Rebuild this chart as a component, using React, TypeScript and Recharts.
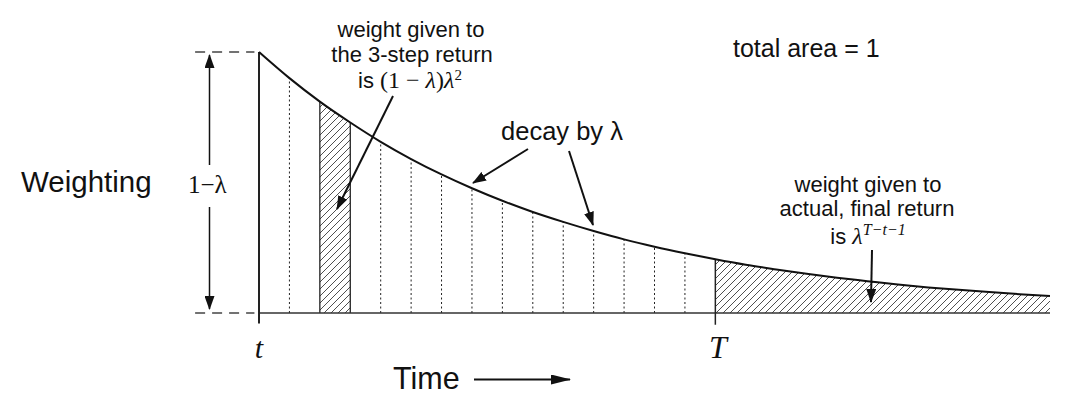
import { ComposedChart, Line, Area, XAxis, YAxis, ReferenceLine } from 'recharts'

// time steps after t (T is step 15), and the weight at each step (1 = 1-λ at t)
const steps = [0, 1, 2, 3, 4, 5, 6, 7, 8, 9, 10, 11, 12, 13, 14, 15, 16, 17, 18, 19, 20, 21, 22, 23, 24, 25, 26]
const weights = [
  1.0, 0.9, 0.81, 0.73, 0.656, 0.59, 0.531, 0.478, 0.43, 0.387, 0.349, 0.314, 0.282, 0.254,
  0.229, 0.206, 0.185, 0.167, 0.15, 0.135, 0.122, 0.109, 0.098, 0.089, 0.08, 0.072, 0.065,
]
const threeStep = [2, 3]
const finalStep = 15
const dottedSteps = [1, 4, 5, 6, 7, 8, 9, 10, 11, 12, 13, 14]
const levelGuides = [0, 1]

const data = steps.map((k, i) => ({
  k,
  w: weights[i],
  hatchA: threeStep.includes(k) ? weights[i] : null,
  hatchB: k >= finalStep ? weights[i] : null,
}))

const W = 1087
const H = 416
const sans = '"Liberation Sans", Arial, Helvetica, sans-serif'
const serif = '"Liberation Serif", "Times New Roman", serif'
const ink = '#111'

function Annotations() {
  return (
    <svg width={W} height={H} style={{ position: 'absolute', left: 0, top: 0, pointerEvents: 'none' }}>
      <defs>
        <marker id="head" viewBox="0 0 14 10" refX="13" refY="5" markerWidth="14" markerHeight="10" markerUnits="userSpaceOnUse" orient="auto">
          <path d="M0,0 L14,5 L0,10 z" fill={ink} />
        </marker>
        <marker id="headBig" viewBox="0 0 20 10" refX="19" refY="5" markerWidth="20" markerHeight="10" markerUnits="userSpaceOnUse" orient="auto">
          <path d="M0,0 L20,5 L0,10 z" fill={ink} />
        </marker>
      </defs>

      {/* 1-λ double arrow */}
      <line x1={209.5} y1={165} x2={209.5} y2={55} stroke={ink} strokeWidth={1.5} markerEnd="url(#head)" />
      <line x1={209.5} y1={207} x2={209.5} y2={309} stroke={ink} strokeWidth={1.5} markerEnd="url(#head)" />
      <text x={188} y={193} fontFamily={serif} fontSize={25} fill={ink}>1−λ</text>

      <text x={21} y={192} fontFamily={sans} fontSize={29.5} fill={ink}>Weighting</text>

      {/* 3-step return note */}
      <g fontFamily={sans} fontSize={22} fill={ink} textAnchor="middle">
        <text x={411} y={37}>weight given to</text>
        <text x={412} y={62}>the 3-step return</text>
        <text x={410} y={88}>
          is <tspan fontFamily={serif} fontSize={24}>(1 − </tspan>
          <tspan fontFamily={serif} fontSize={24} fontStyle="italic">λ</tspan>
          <tspan fontFamily={serif} fontSize={24}>)</tspan>
          <tspan fontFamily={serif} fontSize={24} fontStyle="italic">λ</tspan>
          <tspan fontFamily={serif} fontSize={15} dy={-8}>2</tspan>
        </text>
      </g>
      <line x1={393} y1={96} x2={337} y2={209} stroke={ink} strokeWidth={2} markerEnd="url(#head)" />

      <text x={733} y={57} fontFamily={sans} fontSize={25} fill={ink}>total area = 1</text>

      {/* decay note */}
      <text x={562} y={140} fontFamily={sans} fontSize={25.5} fill={ink} textAnchor="middle">decay by λ</text>
      <line x1={528} y1={149} x2={473} y2={183} stroke={ink} strokeWidth={2} markerEnd="url(#head)" />
      <line x1={569} y1={151} x2={593} y2={225} stroke={ink} strokeWidth={2} markerEnd="url(#head)" />

      {/* final return note */}
      <g fontFamily={sans} fontSize={22} fill={ink} textAnchor="middle">
        <text x={868} y={192}>weight given to</text>
        <text x={867} y={216}>actual, final return</text>
        <text x={868} y={244}>
          is <tspan fontFamily={serif} fontSize={24} fontStyle="italic">λ</tspan>
          <tspan fontFamily={serif} fontStyle="italic" fontSize={16} dy={-9}>T−t−1</tspan>
        </text>
      </g>
      <line x1={872} y1={250} x2={871} y2={302} stroke={ink} strokeWidth={2} markerEnd="url(#head)" />

      {/* axis labels */}
      <text x={259} y={358} fontFamily={serif} fontStyle="italic" fontSize={30} fill={ink} textAnchor="middle">t</text>
      <text x={718} y={358} fontFamily={serif} fontStyle="italic" fontSize={32} fill={ink} textAnchor="middle">T</text>
      <text x={393} y={389} fontFamily={sans} fontSize={30.5} fill={ink}>Time</text>
      <line x1={474} y1={379.5} x2={570} y2={379.5} stroke={ink} strokeWidth={2} markerEnd="url(#headBig)" />
    </svg>
  )
}

export default function App() {
  return (
    <div style={{ position: 'absolute', left: 0, top: 0, width: W, height: H, background: '#fff' }}>
      <ComposedChart width={W} height={H} data={data} margin={{ top: 52, right: 37, left: 259, bottom: 103 }}>
        <defs>
          <pattern id="hatch" patternUnits="userSpaceOnUse" width={7} height={7}>
            <path d="M0,7 L7,0 M-1,1 L1,-1 M6,8 L8,6" stroke="#222" strokeWidth={0.8} />
          </pattern>
        </defs>
        <XAxis type="number" dataKey="k" domain={[0, 26]} hide />
        <YAxis type="number" domain={[0, 1]} hide />

        <Area type="monotone" dataKey="hatchA" fill="url(#hatch)" fillOpacity={1} stroke="none" isAnimationActive={false} />
        <Area type="monotone" dataKey="hatchB" fill="url(#hatch)" fillOpacity={1} stroke="none" isAnimationActive={false} />

        {levelGuides.map((v) => (
          <ReferenceLine
            key={'g' + v}
            segment={[{ x: -2.1, y: v }, { x: -0.15, y: v }]}
            stroke="#444"
            strokeWidth={1.3}
            strokeDasharray="10 7"
            ifOverflow="visible"
          />
        ))}

        {dottedSteps.map((k) => (
          <ReferenceLine
            key={'d' + k}
            segment={[{ x: k, y: 0 }, { x: k, y: weights[k] }]}
            stroke="#222"
            strokeWidth={1}
            strokeDasharray="2 2.5"
            ifOverflow="visible"
          />
        ))}
        {threeStep.map((k) => (
          <ReferenceLine
            key={'s' + k}
            segment={[{ x: k, y: 0 }, { x: k, y: weights[k] }]}
            stroke="#222"
            strokeWidth={1.3}
            ifOverflow="visible"
          />
        ))}

        <ReferenceLine segment={[{ x: 0, y: 0 }, { x: 26, y: 0 }]} stroke="#333" strokeWidth={1.5} ifOverflow="visible" />
        <ReferenceLine segment={[{ x: 0, y: -0.04 }, { x: 0, y: 1 }]} stroke="#222" strokeWidth={2} ifOverflow="visible" />
        <ReferenceLine
          segment={[{ x: finalStep, y: -0.045 }, { x: finalStep, y: weights[finalStep] }]}
          stroke="#222"
          strokeWidth={1.5}
          ifOverflow="visible"
        />

        <Line type="monotone" dataKey="w" stroke={ink} strokeWidth={2} dot={false} isAnimationActive={false} />
      </ComposedChart>
      <Annotations />
    </div>
  )
}
